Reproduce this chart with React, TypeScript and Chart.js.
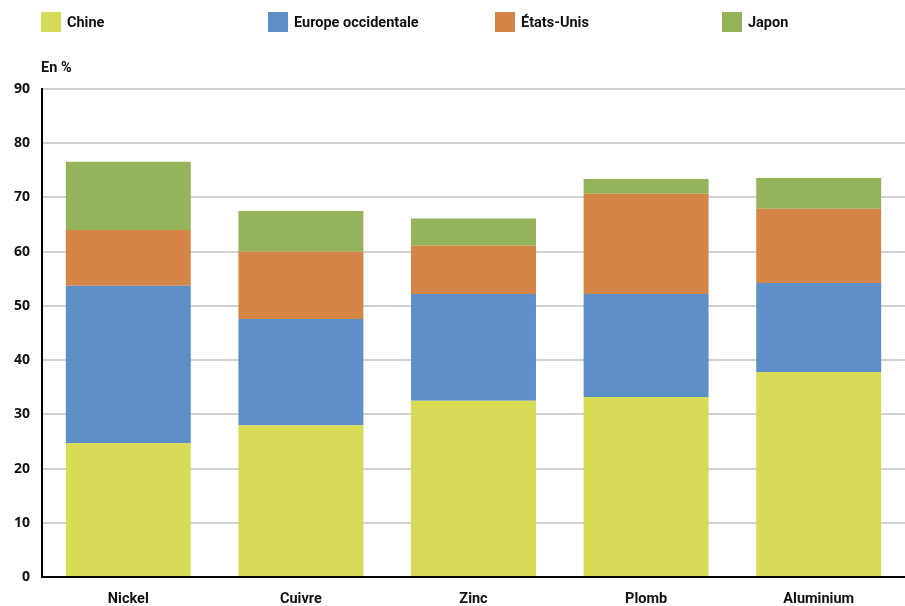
import React, { useEffect, useRef } from "react";
import { Chart, registerables } from "chart.js";

Chart.register(...registerables);

const categories = ["Nickel", "Cuivre", "Zinc", "Plomb", "Aluminium"];
const seriesNames = ["Chine", "Europe occidentale", "États-Unis", "Japon"];
const chine = [24.7, 28.0, 32.5, 33.2, 37.8];
const europe = [29.0, 19.6, 19.7, 19.0, 16.4];
const etatsUnis = [10.3, 12.4, 8.9, 18.5, 13.7];
const japon = [12.6, 7.5, 5.0, 2.7, 5.7];
const colors = ["#D8DB55", "#5E8FC9", "#D58546", "#94B35A"];
const yTicks = [0, 10, 20, 30, 40, 50, 60, 70, 80, 90];

const condensed = "Roboto, sans-serif";

export default function App() {
  const ref = useRef<HTMLCanvasElement | null>(null);

  useEffect(() => {
    document.body.style.margin = "0";
    const ctx = ref.current;
    if (!ctx) return;
    const values = [chine, europe, etatsUnis, japon];
    const chart = new Chart(ctx, {
      type: "bar",
      data: {
        labels: categories,
        datasets: seriesNames.map((name, i) => ({
          label: name,
          data: values[i],
          backgroundColor: colors[i],
          borderWidth: 0,
          categoryPercentage: 1,
          barPercentage: 0.724,
        })),
      },
      options: {
        animation: false,
        responsive: false,
        devicePixelRatio: 1,
        layout: { padding: { top: 89, left: 0, right: 0, bottom: 0 } },
        plugins: { legend: { display: false }, tooltip: { enabled: false }, title: { display: false } },
        scales: {
          x: {
            stacked: true,
            grid: { display: false, drawTicks: false },
            border: { display: true, color: "#000", width: 2 },
            ticks: {
              color: "#111",
              font: { family: condensed, size: 14.5, weight: "bold" },
              padding: 14,
              maxRotation: 0,
            },
            afterFit: (scale: any) => {
              scale.height = 29;
            },
          },
          y: {
            stacked: true,
            min: 0,
            max: 90,
            afterBuildTicks: (scale: any) => {
              scale.ticks = yTicks.map((v) => ({ value: v }));
            },
            grid: { color: "#D2D2D2", lineWidth: 2, drawTicks: false },
            border: { display: true, color: "#000", width: 2 },
            ticks: {
              color: "#111",
              font: { family: "'Open Sans', sans-serif", size: 14, weight: "bold" },
              padding: 12,
            },
            afterFit: (scale: any) => {
              scale.width = 42;
            },
          },
        },
      },
    });
    return () => chart.destroy();
  }, []);

  const legendLeft = [41, 268, 495, 722];

  return (
    <div style={{ position: "relative", width: 905, height: 606, background: "#fff", overflow: "hidden" }}>
      <canvas ref={ref} width={905} height={606} style={{ position: "absolute", left: 0, top: 0 }} />
      {seriesNames.map((name, i) => (
        <div
          key={name}
          style={{
            position: "absolute",
            left: legendLeft[i],
            top: 12,
            height: 20,
            display: "flex",
            alignItems: "center",
            fontFamily: condensed,
            fontWeight: "bold",
            fontSize: 14.5,
            color: "#111",
            whiteSpace: "nowrap",
          }}
        >
          <span style={{ display: "inline-block", width: 20, height: 20, background: colors[i], marginRight: 6 }} />
          <span>{name}</span>
        </div>
      ))}
      <div
        style={{
          position: "absolute",
          left: 41,
          top: 59,
          fontFamily: condensed,
          fontWeight: "bold",
          fontSize: 14.5,
          color: "#111",
          lineHeight: "18px",
        }}
      >
        En %
      </div>
    </div>
  );
}
